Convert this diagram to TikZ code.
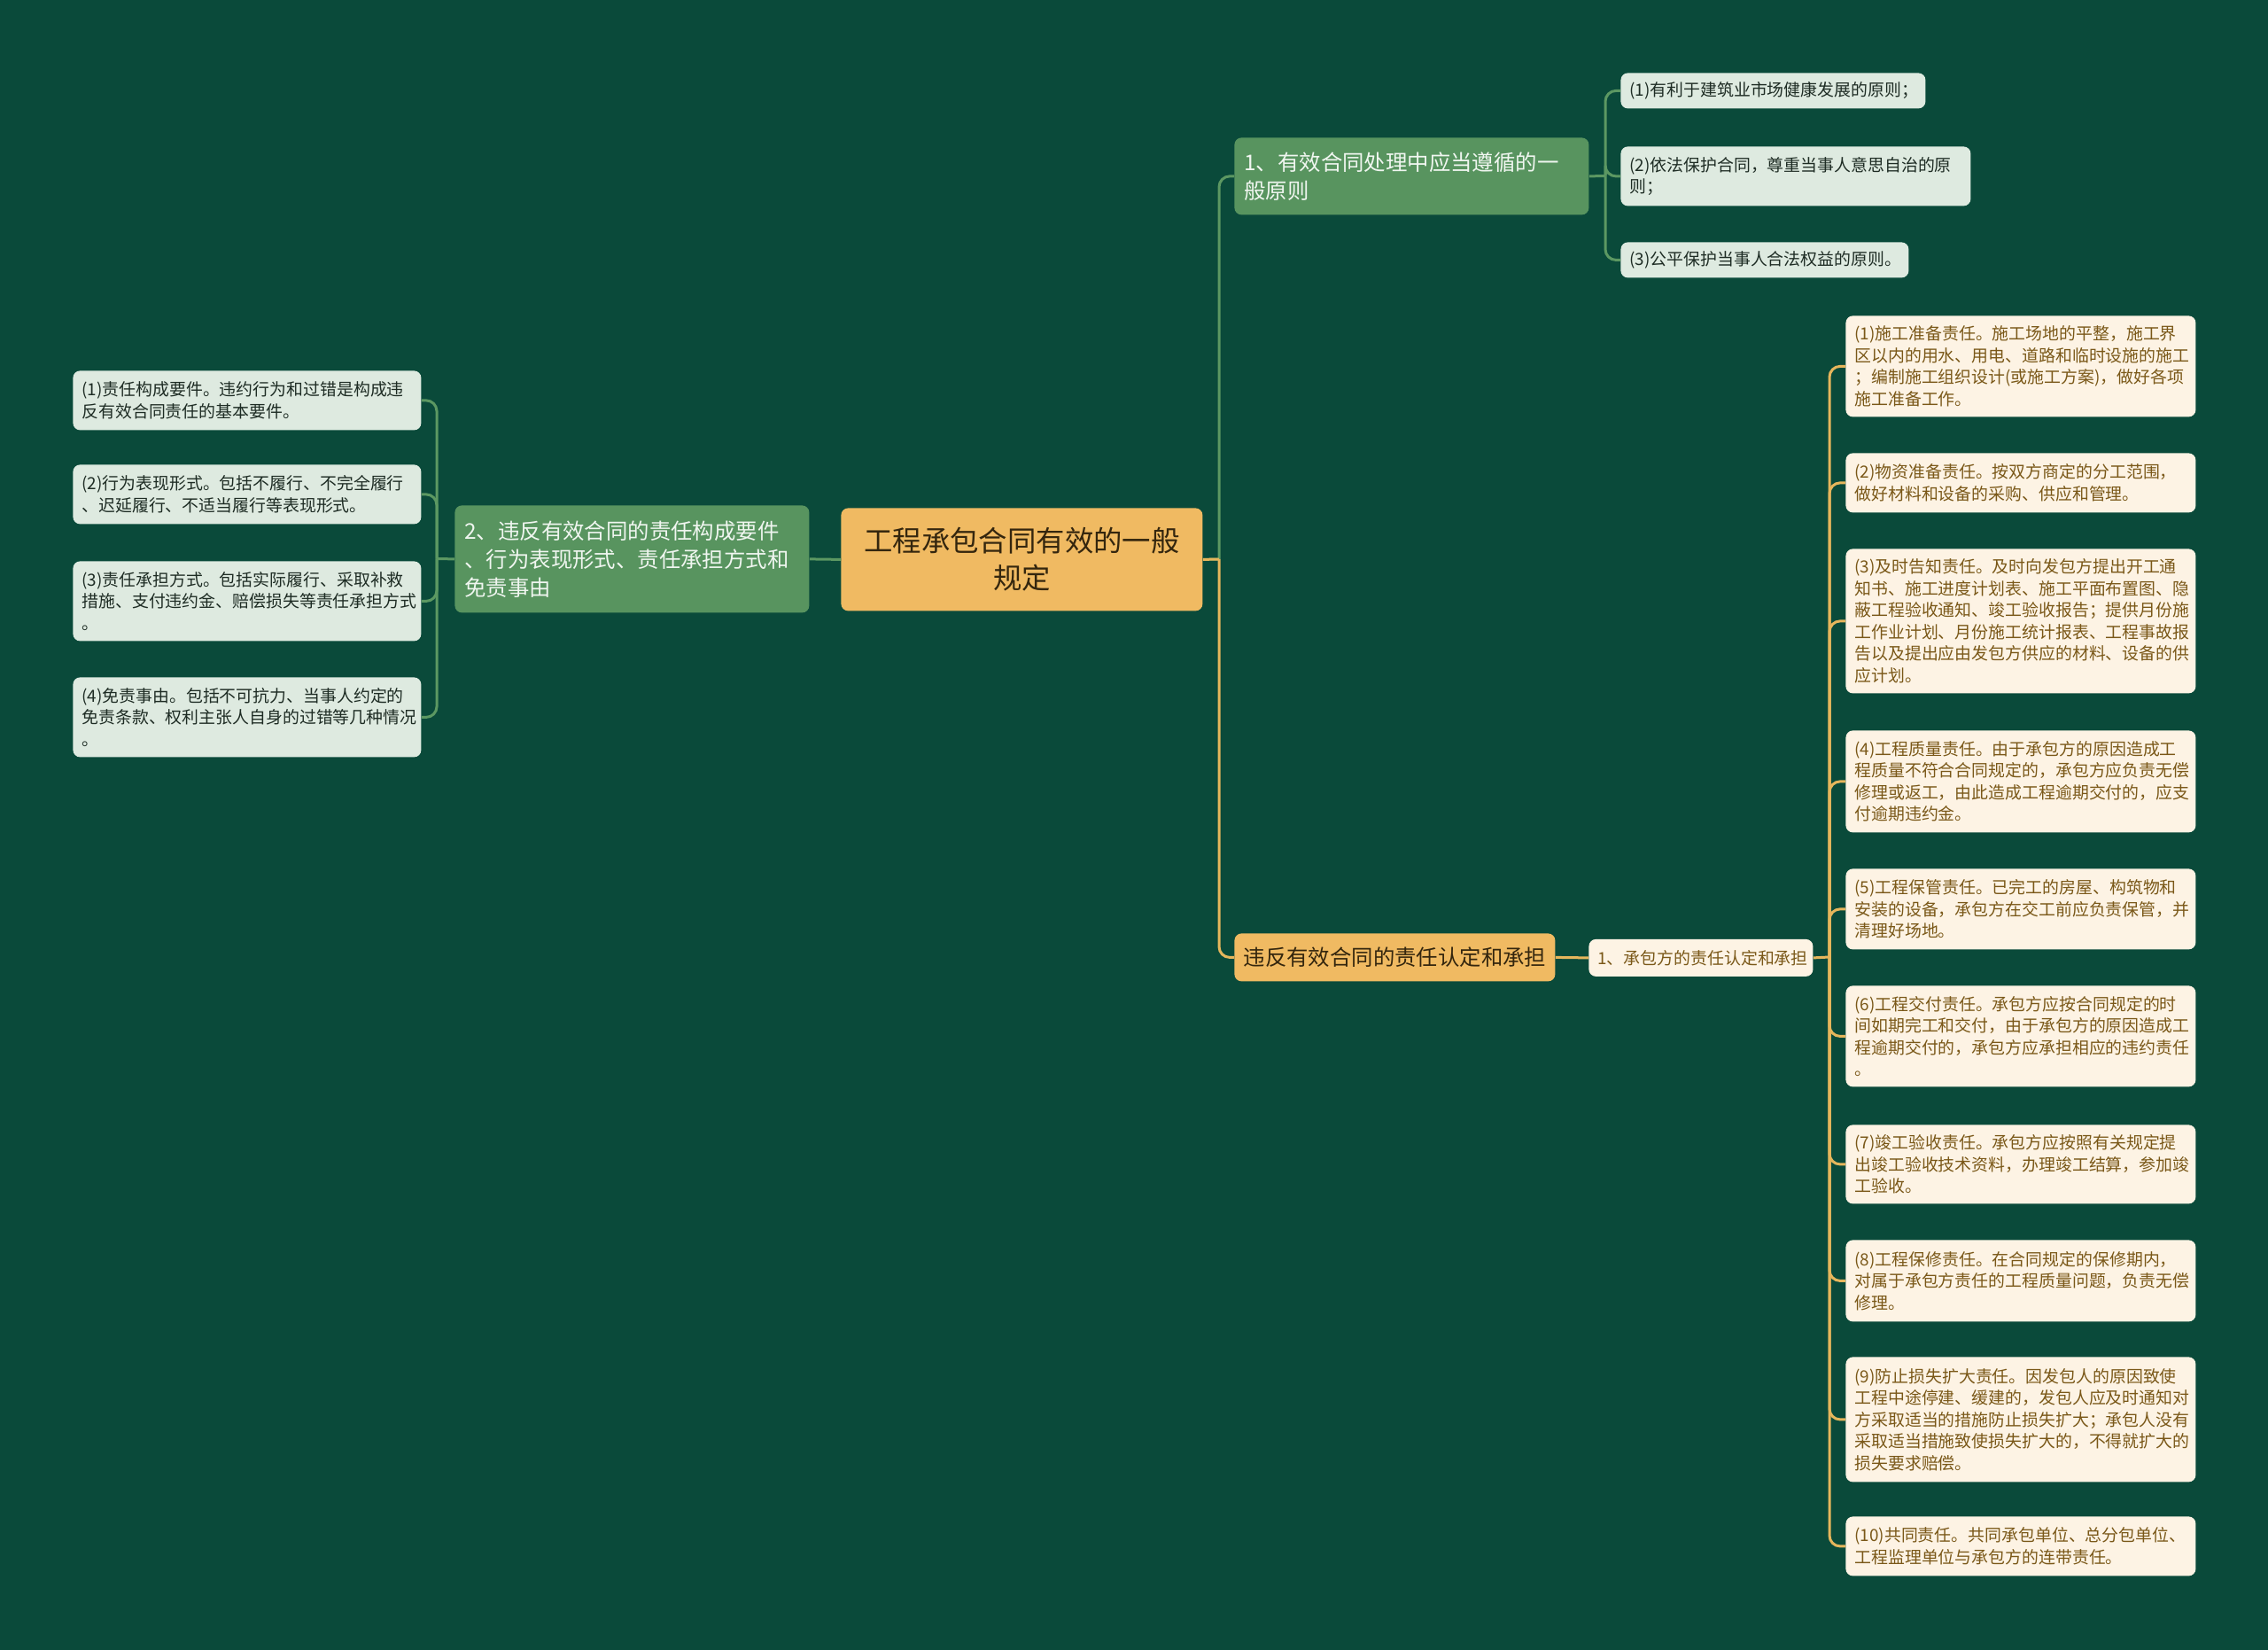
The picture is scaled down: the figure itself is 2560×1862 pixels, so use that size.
\documentclass[tikz,border=0pt]{standalone}
\usepackage{fontspec}
\newfontfamily\cjk{Noto Sans CJK SC}
\definecolor{bgc}{RGB}{10,74,58}
\definecolor{rootc}{RGB}{240,186,98}
\definecolor{roottxt}{RGB}{52,38,14}
\definecolor{gfill}{RGB}{88,148,95}
\definecolor{gtext}{RGB}{240,246,240}
\definecolor{gleafc}{RGB}{222,234,224}
\definecolor{gleaftxt}{RGB}{30,44,36}
\definecolor{cleafc}{RGB}{253,243,228}
\definecolor{cleaftxt}{RGB}{122,88,24}
\definecolor{glinec}{RGB}{92,152,98}
\definecolor{ylinec}{RGB}{230,182,92}
\begin{document}
\begin{tikzpicture}[x=0.5pt,y=-0.5pt,
  base/.style={anchor=north west, rounded corners=4pt, inner xsep=5pt, inner ysep=0pt, align=left},
  rootbox/.style={base, fill=rootc, text=roottxt, align=center, font=\cjk\fontsize{16.2}{21.25}\selectfont},
  gbranch/.style={base, fill=gfill, text=gtext, inner xsep=5.5pt, font=\cjk\fontsize{12.2}{16}\selectfont},
  obranch/.style={base, fill=rootc, text=roottxt, align=center, font=\cjk\fontsize{12.2}{16}\selectfont},
  gleaf/.style={base, fill=gleafc, text=gleaftxt, font=\cjk\fontsize{9.45}{12.25}\selectfont},
  cleaf/.style={base, fill=cleafc, text=cleaftxt, font=\cjk\fontsize{9.45}{12.25}\selectfont},
  gline/.style={draw=glinec, line width=1.5pt},
  yline/.style={draw=ylinec, line width=1.5pt},
  rc/.style={rounded corners=6pt}
]
\fill[bgc] (0,0) rectangle (2560,1862);
\useasboundingbox (0,0) rectangle (2560,1862);

% root
\node[rootbox, text width=194pt, minimum height=58pt] (root) at (949,573) {工程承包合同有效的一般\\规定};

% left branch
\node[gbranch, text width=189pt, minimum height=60.5pt] (a) at (513,570) {2、违反有效合同的责任构成要件\\、行为表现形式、责任承担方式和\\免责事由};
\node[gleaf, text width=186.5pt, minimum height=33.5pt] (l1) at (82,418) {(1)责任构成要件。违约行为和过错是构成违\\反有效合同责任的基本要件。};
\node[gleaf, text width=186.5pt, minimum height=33.5pt] (l2) at (82,524) {(2)行为表现形式。包括不履行、不完全履行\\、迟延履行、不适当履行等表现形式。};
\node[gleaf, text width=186.5pt, minimum height=45pt] (l3) at (82,633) {(3)责任承担方式。包括实际履行、采取补救\\措施、支付违约金、赔偿损失等责任承担方式\\。};
\node[gleaf, text width=186.5pt, minimum height=45pt] (l4) at (82,764) {(4)免责事由。包括不可抗力、当事人约定的\\免责条款、权利主张人自身的过错等几种情况\\。};

% right branch 1
\node[gbranch, text width=189pt, minimum height=43.5pt] (b1) at (1393,155) {1、有效合同处理中应当遵循的一\\般原则};
\node[gleaf, text width=162pt, minimum height=20pt] (r1) at (1829,82) {(1)有利于建筑业市场健康发展的原则；};
\node[gleaf, text width=187.5pt, minimum height=33.5pt] (r2) at (1829,165) {(2)依法保护合同，尊重当事人意思自治的原\\则；};
\node[gleaf, text width=152.5pt, minimum height=20pt] (r3) at (1829,273) {(3)公平保护当事人合法权益的原则。};

% right branch 2
\node[obranch, text width=171pt, minimum height=27pt] (b2) at (1393,1053) {违反有效合同的责任认定和承担};
\node[cleaf, text width=116.5pt, minimum height=21pt, align=center] (c) at (1793,1059.5) {1、承包方的责任认定和承担};

\node[cleaf, text width=187.5pt, minimum height=57pt] (d1) at (2083,356) {(1)施工准备责任。施工场地的平整，施工界\\区以内的用水、用电、道路和临时设施的施工\\；编制施工组织设计(或施工方案)，做好各项\\施工准备工作。};
\node[cleaf, text width=187.5pt, minimum height=33.5pt] (d2) at (2083,511) {(2)物资准备责任。按双方商定的分工范围，\\做好材料和设备的采购、供应和管理。};
\node[cleaf, text width=187.5pt, minimum height=81.5pt] (d3) at (2083,619) {(3)及时告知责任。及时向发包方提出开工通\\知书、施工进度计划表、施工平面布置图、隐\\蔽工程验收通知、竣工验收报告；提供月份施\\工作业计划、月份施工统计报表、工程事故报\\告以及提出应由发包方供应的材料、设备的供\\应计划。};
\node[cleaf, text width=187.5pt, minimum height=57.5pt] (d4) at (2083,824) {(4)工程质量责任。由于承包方的原因造成工\\程质量不符合合同规定的，承包方应负责无偿\\修理或返工，由此造成工程逾期交付的，应支\\付逾期违约金。};
\node[cleaf, text width=187.5pt, minimum height=45.5pt] (d5) at (2083,980) {(5)工程保管责任。已完工的房屋、构筑物和\\安装的设备，承包方在交工前应负责保管，并\\清理好场地。};
\node[cleaf, text width=187.5pt, minimum height=57pt] (d6) at (2083,1112) {(6)工程交付责任。承包方应按合同规定的时\\间如期完工和交付，由于承包方的原因造成工\\程逾期交付的，承包方应承担相应的违约责任\\。};
\node[cleaf, text width=187.5pt, minimum height=44.5pt] (d7) at (2083,1269) {(7)竣工验收责任。承包方应按照有关规定提\\出竣工验收技术资料，办理竣工结算，参加竣\\工验收。};
\node[cleaf, text width=187.5pt, minimum height=46pt] (d8) at (2083,1399) {(8)工程保修责任。在合同规定的保修期内，\\对属于承包方责任的工程质量问题，负责无偿\\修理。};
\node[cleaf, text width=187.5pt, minimum height=70.5pt] (d9) at (2083,1531) {(9)防止损失扩大责任。因发包人的原因致使\\工程中途停建、缓建的，发包人应及时通知对\\方采取适当的措施防止损失扩大；承包人没有\\采取适当措施致使损失扩大的，不得就扩大的\\损失要求赔偿。};
\node[cleaf, text width=187.5pt, minimum height=33.5pt] (d10) at (2083,1711) {(10)共同责任。共同承包单位、总分包单位、\\工程监理单位与承包方的连带责任。};

% junction coordinates
\coordinate (jr) at (1376,631);
\coordinate (jl) at (493,630.5);
\coordinate (j1) at (1812,198.5);
\coordinate (jc) at (2065,1080);

% connectors
\draw[gline] (a.west) -- (jl);
\foreach \n in {l1,l2,l3,l4} \draw[gline, rc] (jl) |- (\n.east);
\draw[gline] (root.west) -- (a.east);
\draw[gline] (root.east) -- (jr);
\draw[gline, rc] (jr) |- (b1.west);
\draw[yline, rc] (jr) |- (b2.west);
\draw[yline] (root.east) -- (jr);
\draw[gline] (b1.east) -- (j1);
\foreach \n in {r1,r2,r3} \draw[gline, rc] (j1) |- (\n.west);
\draw[yline] (b2.east) -- (c.west);
\draw[yline] (c.east) -- (jc);
\foreach \n in {d1,d2,d3,d4,d5,d6,d7,d8,d9,d10} \draw[yline, rc] (jc) |- (\n.west);
\end{tikzpicture}
\end{document}
